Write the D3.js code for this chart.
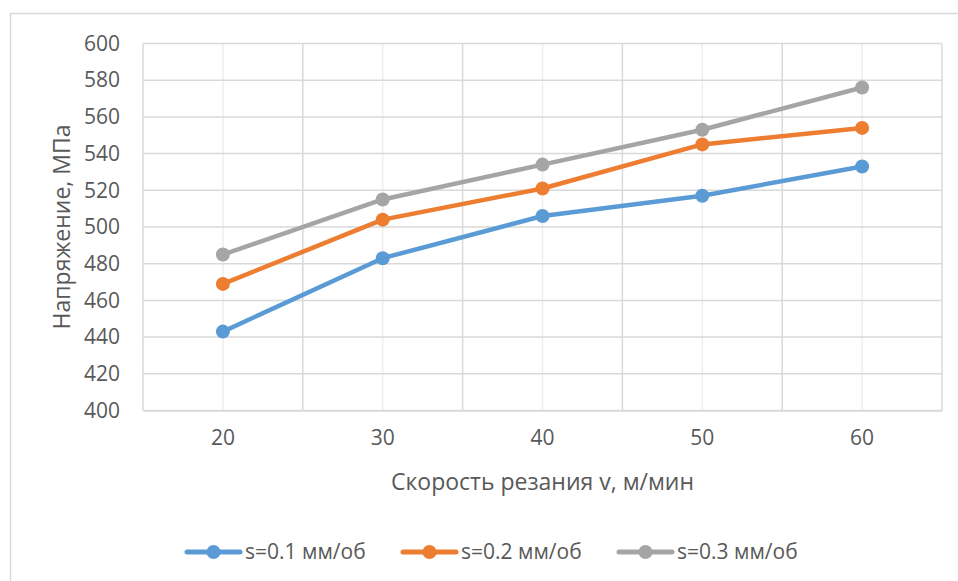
<!DOCTYPE html>
<html><head><meta charset="utf-8">
<script src="https://cdn.jsdelivr.net/npm/d3@7"></script>
<style>body{margin:0;background:#fff}svg{display:block}</style>
</head><body>
<script>
const categories = [20, 30, 40, 50, 60];
const s01 = [443, 483, 506, 517, 533];
const s02 = [469, 504, 521, 545, 554];
const s03 = [485, 515, 534, 553, 576];
const seriesNames = ["s=0.1 мм/об", "s=0.2 мм/об", "s=0.3 мм/об"];
const seriesColors = ["#5B9BD5", "#ED7D31", "#A5A5A5"];
const yTicks = [400, 420, 440, 460, 480, 500, 520, 540, 560, 580, 600];
const xTitle = "Скорость резания v, м/мин";
const yTitle = "Напряжение, МПа";

const W = 958, H = 581;
const m = {left: 143, right: 942, top: 43.5, bottom: 410.5};
const font = "Open Sans, sans-serif";
const textColor = "#595959";

const svg = d3.select("body").append("svg").attr("width", W).attr("height", H);
svg.append("rect").attr("x", 10.5).attr("y", 13.5).attr("width", W + 5).attr("height", H)
  .attr("fill", "#fff").attr("stroke", "#D9D9D9").attr("stroke-width", 1.5);

const x = d3.scaleBand().domain(categories).range([m.left, m.right]);
const y = d3.scaleLinear().domain([400, 600]).range([m.bottom, m.top]);

// minor vertical gridlines at category centers
svg.append("g").selectAll("line").data(categories).join("line")
  .attr("x1", d => x(d) + x.bandwidth() / 2).attr("x2", d => x(d) + x.bandwidth() / 2)
  .attr("y1", m.top).attr("y2", m.bottom)
  .attr("stroke", "#EEEEEE").attr("stroke-width", 1.5);
// major vertical gridlines at boundaries
const bounds = categories.map(d => x(d)).concat([m.right]);
svg.append("g").selectAll("line").data(bounds.slice(1)).join("line")
  .attr("x1", d => d).attr("x2", d => d).attr("y1", m.top).attr("y2", m.bottom)
  .attr("stroke", "#D9D9D9").attr("stroke-width", 1.5);
// horizontal gridlines
svg.append("g").selectAll("line").data(yTicks).join("line")
  .attr("x1", m.left).attr("x2", m.right).attr("y1", d => y(d)).attr("y2", d => y(d))
  .attr("stroke", "#D9D9D9").attr("stroke-width", 1.5);
// axis lines
svg.append("line").attr("x1", m.left).attr("x2", m.left).attr("y1", m.top).attr("y2", m.bottom)
  .attr("stroke", "#D9D9D9").attr("stroke-width", 1.5);

// y axis
const yAxis = d3.axisLeft(y).tickValues(yTicks).tickSize(0).tickPadding(23);
const gy = svg.append("g").attr("transform", `translate(${m.left},0)`).call(yAxis);
gy.select(".domain").remove();
gy.selectAll("text").attr("font-family", font).attr("font-size", 21).attr("fill", textColor);

// x axis
const xAxis = d3.axisBottom(x).tickSize(0).tickPadding(20);
const gx = svg.append("g").attr("transform", `translate(0,${m.bottom})`).call(xAxis);
gx.select(".domain").attr("stroke", "#D9D9D9").attr("stroke-width", 1.5);
gx.selectAll("text").attr("font-family", font).attr("font-size", 21).attr("fill", textColor);

// titles
svg.append("text").attr("x", (m.left + m.right) / 2).attr("y", 490)
  .attr("text-anchor", "middle").attr("font-family", font).attr("font-size", 23)
  .attr("fill", textColor).text(xTitle);
svg.append("text").attr("transform", `translate(70,${(m.top + m.bottom) / 2}) rotate(-90)`)
  .attr("text-anchor", "middle").attr("font-family", font).attr("font-size", 23)
  .attr("fill", textColor).text(yTitle);

// series
const data = [s01, s02, s03];
const line = d3.line().x((d, i) => x(categories[i]) + x.bandwidth() / 2).y(d => y(d));
data.forEach((vals, k) => {
  svg.append("path").datum(vals).attr("d", line).attr("fill", "none")
    .attr("stroke", seriesColors[k]).attr("stroke-width", 4.5).attr("stroke-linejoin", "round")
    .attr("stroke-linecap", "round");
  svg.append("g").selectAll("circle").data(vals).join("circle")
    .attr("cx", (d, i) => x(categories[i]) + x.bandwidth() / 2).attr("cy", d => y(d))
    .attr("r", 7).attr("fill", seriesColors[k]);
});

// legend
const legX = [187, 403, 619];
const legY = 552;
seriesNames.forEach((name, k) => {
  const g = svg.append("g").attr("transform", `translate(${legX[k]},${legY})`);
  g.append("line").attr("x1", 0).attr("x2", 53).attr("y1", 0).attr("y2", 0)
    .attr("stroke", seriesColors[k]).attr("stroke-width", 5).attr("stroke-linecap", "round");
  g.append("circle").attr("cx", 26.5).attr("cy", 0).attr("r", 7).attr("fill", seriesColors[k]);
  g.append("text").attr("x", 58).attr("y", 0).attr("dy", "0.35em")
    .attr("font-family", font).attr("font-size", 21).attr("fill", textColor).text(name);
});
</script>
</body></html>
